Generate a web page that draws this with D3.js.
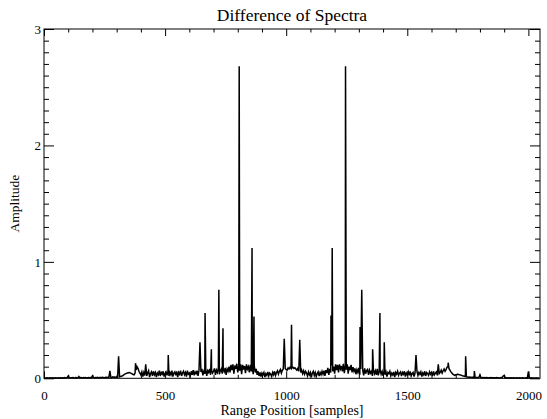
<!DOCTYPE html>
<html>
<head>
<meta charset="utf-8">
<script src="https://cdn.jsdelivr.net/npm/d3@7"></script>
<style>
  body { margin: 0; background: #fff; }
  svg { display: block; }
  text { font-family: "Liberation Serif", "Times New Roman", Times, serif; fill: #000; }
</style>
</head>
<body>
<svg id="chart" width="547" height="419"></svg>
<script>
// ---- data ----
const title = "Difference of Spectra";
const xLabel = "Range Position [samples]";
const yLabel = "Amplitude";
const xMajorTicks = [0, 500, 1000, 1500, 2000];
const yMajorTicks = [0, 1, 2, 3];
const floorStep = 4; // samples between floor readings
const floorValues = [
  .002,.003,.002,.004,.002,.003,.005,.002,.003,.004,.002,.003,.005,.003,.002,.004,
  .003,.005,.002,.004,.003,.006,.003,.004,.008,.02,.006,.003,.005,.004,.006,.003,
  .004,.006,.003,.005,.015,.004,.006,.003,.005,.007,.004,.006,.003,.005,.007,.004,
  .006,.005,.02,.007,.004,.006,.005,.008,.004,.006,.007,.005,.008,.006,.004,.007,
  .008,.006,.009,.007,.01,.008,.006,.012,.009,.011,.008,.013,.01,.015,.012,.016,
  .018,.022,.028,.033,.038,.042,.045,.048,.05,.047,.043,.038,.032,.03,.045,.07,
  .1,.085,.06,.045,.03,.055,.015,.05,.025,.06,.02,.045,.065,.01,.04,.055,
  .02,.06,.03,.05,.01,.045,.03,.065,.02,.05,.035,.06,.015,.04,.055,.025,
  .06,.02,.05,.03,.065,.015,.045,.055,.025,.06,.01,.05,.035,.065,.02,.045,
  .06,.03,.05,.015,.065,.035,.045,.02,.06,.03,.07,.025,.055,.04,.065,.02,
  .07,.03,.055,.08,.025,.06,.04,.075,.02,.065,.05,.08,.03,.07,.045,.06,
  .085,.03,.07,.05,.09,.035,.065,.08,.04,.075,.055,.09,.03,.08,.06,.1,
  .05,.115,.07,.12,.04,.11,.08,.125,.05,.1,.065,.12,.035,.115,.075,.105,
  .045,.12,.08,.1,.05,.115,.06,.09,.035,.11,.05,.08,.03,.06,.02,.05,
  .015,.045,.03,.05,.01,.04,.025,.055,.02,.045,.035,.015,.05,.03,.06,.025,
  .05,.065,.035,.06,.075,.045,.07,.08,.06,.085,.075,.07,.09,.08,.095,.085,
  .09,.095,.085,.09,.08,.07,.085,.06,.075,.05,.07,.04,.065,.035,.06,.045,
  .02,.055,.03,.05,.01,.045,.06,.025,.05,.015,.04,.055,.02,.05,.03,.06,
  .035,.065,.02,.07,.045,.09,.03,.08,.05,.11,.06,.1,.04,.12,.07,.115,
  .05,.12,.08,.105,.06,.125,.045,.11,.075,.12,.04,.1,.07,.115,.05,.095,
  .06,.085,.035,.075,.05,.09,.03,.08,.055,.07,.025,.085,.04,.065,.075,.03,
  .07,.045,.06,.02,.075,.04,.065,.03,.08,.025,.055,.07,.035,.06,.02,.065,
  .03,.055,.015,.05,.04,.06,.02,.045,.03,.055,.01,.05,.035,.06,.025,.045,
  .055,.02,.05,.035,.06,.015,.045,.03,.055,.025,.06,.02,.04,.05,.015,.045,
  .03,.06,.025,.05,.035,.055,.015,.045,.03,.06,.02,.05,.04,.025,.055,.035,
  .05,.02,.06,.03,.045,.055,.025,.065,.04,.05,.07,.045,.065,.08,.06,.075,
  .095,.1,.085,.07,.055,.045,.035,.03,.025,.03,.032,.035,.033,.03,.028,.025,
  .022,.02,.018,.015,.013,.012,.01,.011,.009,.01,.008,.009,.007,.008,.006,.007,
  .006,.008,.03,.007,.005,.006,.004,.007,.005,.006,.004,.005,.003,.006,.004,.005,
  .004,.005,.003,.006,.004,.005,.003,.004,.006,.005,.02,.025,.004,.005,.003,.004,
  .003,.004,.002,.005,.003,.004,.002,.003,.004,.002,.003,.005,.002,.003,.004,.002,
  .003,.002,.004,.003,.002,.003,.002,.004,.003,.002,.003,.002,.003,.002,.003,.002
];
const spikePositions = [272, 308, 378, 420, 513, 644, 665, 691, 722, 739, 806, 859, 867,
  992, 1022, 1056, 1185, 1190, 1245, 1305, 1312, 1357, 1387, 1405, 1536, 1628, 1669, 1741, 1777, 2000];
const spikeAmplitudes = [0.063, 0.19, 0.13, 0.12, 0.2, 0.31, 0.56, 0.25, 0.76, 0.43, 2.68, 1.12, 0.53,
  0.34, 0.46, 0.33, 0.54, 1.12, 2.68, 0.44, 0.76, 0.25, 0.56, 0.31, 0.2, 0.12, 0.134, 0.19, 0.063, 0.057];

// ---- build series ----
const spikeSet = new Set(spikePositions);
const pts = floorValues.map((v, i) => ({ x: i * floorStep, y: v })).filter(d => !spikeSet.has(d.x));
spikePositions.forEach((p, i) => pts.push({ x: p, y: spikeAmplitudes[i] }));
pts.sort((a, b) => a.x - b.x);

// ---- layout ----
const FONT = '"Liberation Serif", "Times New Roman", Times, serif';
const svg = d3.select("#chart");
const L = 44, R = 540, T = 29, B = 378.3;
const x = d3.scaleLinear().domain([0, 2048]).range([L, R]);
const y = d3.scaleLinear().domain([0, 3]).range([B, T]);

const xMinor = d3.range(0, 2048, 100).filter(v => v % 500 !== 0);
const yMinor = d3.range(0, 31).map(v => v / 10).filter(v => Math.abs(v - Math.round(v)) > 1e-9);

function style(g) {
  g.attr("font-family", FONT).attr("font-size", 13);
  g.select(".domain").remove();
  g.selectAll("line").attr("stroke", "#000").attr("stroke-width", 1);
  g.selectAll("text").style("font-size", "13px").style("font-family", FONT).attr("fill", "#000");
}

// bottom
svg.append("g").attr("transform", `translate(0,${B})`)
  .call(d3.axisBottom(x).tickValues(xMajorTicks).tickSize(-7).tickPadding(12.5).tickFormat(d3.format("d")))
  .call(style);
svg.append("g").attr("transform", `translate(0,${B})`)
  .call(d3.axisBottom(x).tickValues(xMinor).tickSize(-3.5).tickFormat(""))
  .call(style);
// top
svg.append("g").attr("transform", `translate(0,${T})`)
  .call(d3.axisTop(x).tickValues(xMajorTicks).tickSize(-7).tickFormat(""))
  .call(style);
svg.append("g").attr("transform", `translate(0,${T})`)
  .call(d3.axisTop(x).tickValues(xMinor).tickSize(-3.5).tickFormat(""))
  .call(style);
// left
svg.append("g").attr("transform", `translate(${L},0)`)
  .call(d3.axisLeft(y).tickValues(yMajorTicks).tickSize(-10).tickPadding(3).tickFormat(d3.format("d")))
  .call(style);
svg.append("g").attr("transform", `translate(${L},0)`)
  .call(d3.axisLeft(y).tickValues(yMinor).tickSize(-5).tickFormat(""))
  .call(style);
// right
svg.append("g").attr("transform", `translate(${R},0)`)
  .call(d3.axisRight(y).tickValues(yMajorTicks).tickSize(-10).tickFormat(""))
  .call(style);
svg.append("g").attr("transform", `translate(${R},0)`)
  .call(d3.axisRight(y).tickValues(yMinor).tickSize(-5).tickFormat(""))
  .call(style);

// frame
svg.append("rect").attr("x", L).attr("y", T).attr("width", R - L).attr("height", B - T)
  .attr("fill", "none").attr("stroke", "#000").attr("stroke-width", 1);

// line
const line = d3.line().x(d => x(d.x)).y(d => y(d.y));
svg.append("path").datum(pts).attr("d", line)
  .attr("fill", "none").attr("stroke", "#000").attr("stroke-width", 1.5).attr("stroke-linejoin", "miter");

// texts
svg.append("text").attr("x", (L + R) / 2).attr("y", 21).attr("text-anchor", "middle")
  .style("font-family", FONT).style("font-size", "17.5px").text(title);
svg.append("text").attr("x", (L + R) / 2).attr("y", 415).attr("text-anchor", "middle")
  .style("font-family", FONT).style("font-size", "14px").text(xLabel);
svg.append("text").attr("transform", `translate(19,${(T + B) / 2}) rotate(-90)`).attr("text-anchor", "middle")
  .style("font-family", FONT).style("font-size", "13.5px").text(yLabel);
</script>
</body>
</html>
